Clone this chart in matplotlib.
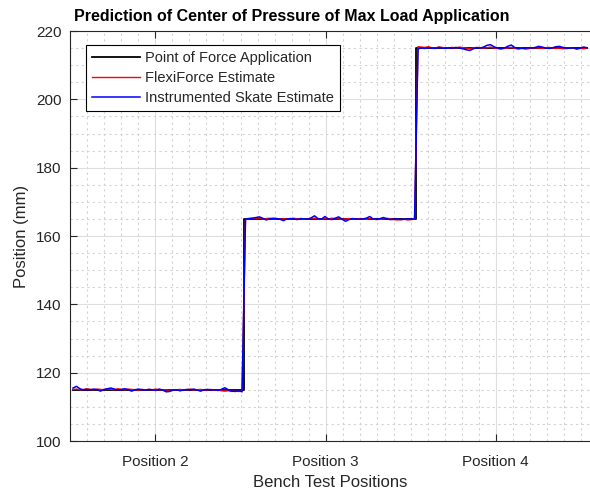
import numpy as np
import matplotlib
matplotlib.use("Agg")
import matplotlib.pyplot as plt
from matplotlib.ticker import MultipleLocator, FixedLocator

# Bench test positions and the applied load location (mm)
positions = ["Position 2", "Position 3", "Position 4"]
position_ticks = [23.9, 73.2, 122.5]   # sample index where each position label sits
applied_mm = [115, 165, 215]
samples_per_position = 50

# FlexiForce centre-of-pressure estimate (mm), per position
flexiforce_p2 = [115.1, 115.2, 115.0, 115.1, 115.3, 115.1, 115.0, 115.2, 115.1, 115.0,
                 115.2, 115.1, 115.0, 115.3, 115.1, 115.0, 115.2, 115.1, 115.0, 114.9,
                 115.1, 115.0, 115.1, 115.0, 115.2, 115.0, 114.9, 115.0, 114.8, 114.9,
                 115.0, 115.1, 114.9, 115.0, 115.2, 114.9, 115.0, 115.1, 114.9, 115.0,
                 115.1, 114.8, 114.9, 114.7, 114.6, 114.7, 114.5, 114.6, 114.5, 114.6]
flexiforce_p3 = [165.0, 165.1, 165.2, 165.1, 165.3, 165.0, 165.1, 165.2, 165.0, 165.1,
                 164.9, 165.0, 165.1, 165.0, 165.2, 165.0, 165.1, 164.9, 165.0, 165.1,
                 165.2, 165.0, 164.9, 165.1, 165.0, 165.2, 165.1, 165.0, 164.9, 165.0,
                 165.1, 165.0, 164.9, 165.1, 165.0, 164.9, 165.1, 165.0, 164.8, 164.9,
                 165.0, 165.2, 165.0, 164.8, 164.7, 164.8, 164.9, 164.7, 164.8, 164.9]
flexiforce_p4 = [215.4, 215.3, 215.2, 215.4, 215.1, 215.0, 215.3, 215.2, 215.0, 215.1,
                 215.2, 215.0, 215.3, 215.1, 215.0, 214.8, 215.0, 215.2, 215.1, 215.0,
                 215.1, 215.3, 215.0, 214.9, 214.7, 214.9, 215.0, 215.2, 214.9, 214.8,
                 215.0, 214.7, 214.8, 215.0, 215.1, 215.0, 214.9, 215.1, 215.2, 215.0,
                 214.9, 215.0, 214.8, 214.9, 215.1, 215.0, 214.7, 214.9, 214.8, 215.0]

# Instrumented skate centre-of-pressure estimate (mm), per position
skate_p2 = [115.5, 116.0, 115.3, 114.9, 115.1, 115.0, 115.2, 115.0, 114.6, 115.1,
            115.3, 115.5, 115.2, 114.9, 115.1, 115.3, 115.0, 114.6, 115.0, 115.2,
            115.0, 114.9, 115.1, 115.0, 114.8, 115.2, 114.9, 114.4, 114.5, 114.9,
            115.0, 114.7, 114.9, 115.1, 115.0, 115.2, 114.9, 114.6, 115.0, 115.1,
            114.9, 115.0, 114.8, 115.1, 115.6, 115.0, 114.6, 114.5, 114.7, 114.4]
skate_p3 = [165.0, 165.1, 165.2, 165.4, 165.6, 165.2, 164.7, 165.0, 165.2, 165.1,
            164.9, 164.5, 165.0, 165.1, 165.0, 164.8, 165.1, 165.0, 164.9, 165.3,
            165.9, 165.1, 164.9, 165.7, 165.0, 164.8, 165.2, 165.6, 164.9, 164.3,
            164.8, 165.1, 165.0, 164.9, 165.0, 165.2, 165.7, 165.0, 164.9, 165.1,
            165.4, 165.0, 164.8, 164.9, 165.0, 164.8, 164.9, 165.0, 164.9, 165.0]
skate_p4 = [214.8, 215.0, 214.9, 215.1, 215.0, 214.9, 215.2, 215.0, 214.9, 215.1,
            215.0, 215.2, 215.0, 214.8, 214.5, 214.3, 214.8, 215.1, 215.0, 215.3,
            215.8, 216.0, 215.4, 215.0, 214.9, 215.0, 215.5, 215.9, 215.2, 214.8,
            214.9, 215.0, 215.1, 215.0, 215.2, 215.5, 215.3, 215.0, 214.9, 215.1,
            215.4, 215.5, 215.2, 214.9, 215.0, 215.1, 214.8, 215.0, 215.3, 215.1]

flexiforce = np.concatenate([flexiforce_p2, flexiforce_p3, flexiforce_p4])
skate = np.concatenate([skate_p2, skate_p3, skate_p4])
applied = np.repeat(applied_mm, samples_per_position)
sample = np.arange(len(applied))

plt.rcParams["font.family"] = ["Liberation Sans", "DejaVu Sans"]
dark = "#262626"

fig = plt.figure(figsize=(5.9, 4.98), dpi=100)
W, H = 590, 498
left_px, right_px, top_px, bottom_px = 70, 600, 31, 441
ax = fig.add_axes([left_px / W, 1 - bottom_px / H,
                   (right_px - left_px) / W, (bottom_px - top_px) / H])

ax.plot(sample, applied, color="black", lw=1.3, drawstyle="steps-mid",
        label="Point of Force Application", zorder=3)
ax.plot(sample, flexiforce, color="red", lw=1.0,
        label="FlexiForce Estimate", zorder=4)
ax.plot(sample, skate, color="blue", lw=1.1,
        label="Instrumented Skate Estimate", zorder=5)

ax.set_xlim(-0.87, 152.75)
ax.set_ylim(100, 220)
ax.xaxis.set_major_locator(FixedLocator(position_ticks))
ax.set_xticklabels(positions)
minor_step = (position_ticks[1] - position_ticks[0]) / 10
ax.xaxis.set_minor_locator(FixedLocator(
    np.arange(position_ticks[0] - 5 * minor_step, 160, minor_step)))
ax.yaxis.set_major_locator(MultipleLocator(20))
ax.yaxis.set_minor_locator(MultipleLocator(5))

ax.grid(which="major", color="#dedede", lw=0.8, ls="-", zorder=0)
ax.grid(which="minor", color="#d2d2d2", lw=0.8, ls=(0, (2, 3)), zorder=0)
ax.set_axisbelow(True)

ax.tick_params(which="major", direction="in", length=5, width=0.8,
               top=True, right=True, colors=dark, labelsize=11, pad=6)
ax.tick_params(axis="x", which="major", pad=10)
ax.tick_params(which="minor", length=0)
for s in ax.spines.values():
    s.set_color(dark)
    s.set_linewidth(0.8)

fig.text(292 / W, 1 - 16 / H,
         "Prediction of Center of Pressure of Max Load Application",
         fontsize=11.5, fontweight="bold", color="black",
         ha="center", va="center")
ax.set_xlabel("Bench Test Positions", fontsize=12, color=dark)
ax.xaxis.set_label_coords((330 - left_px) / (right_px - left_px),
                          -(482 - bottom_px) / (bottom_px - top_px))
ax.xaxis.label.set_va("center")
ax.set_ylabel("Position (mm)", fontsize=12, color=dark)
ax.yaxis.set_label_coords(-(left_px - 22) / (right_px - left_px), 0.5)
ax.yaxis.label.set_va("center")

leg = ax.legend(loc="upper left",
                bbox_to_anchor=(86 / W, 1 - 45 / H),
                bbox_transform=fig.transFigure,
                fontsize=10.5, frameon=True, fancybox=False,
                edgecolor="black", framealpha=1, borderaxespad=0,
                handlelength=3.25, handletextpad=0.35, labelspacing=0.4,
                borderpad=0.42)
leg.get_frame().set_linewidth(0.8)
for t in leg.get_texts():
    t.set_color(dark)

fig.savefig("out.png", dpi=100)
